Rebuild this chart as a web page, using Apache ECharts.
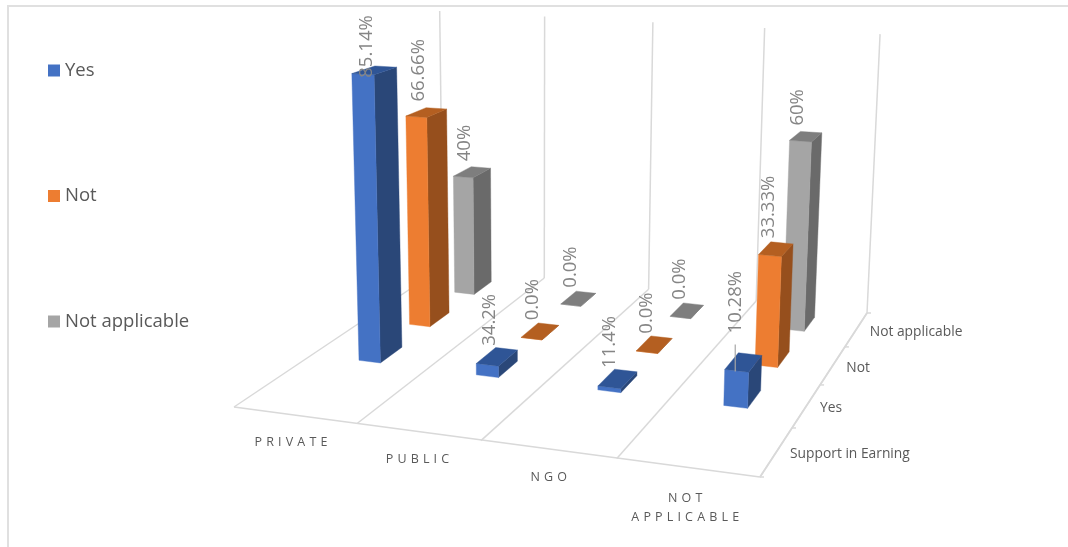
<!DOCTYPE html>
<html><head><meta charset="utf-8">
<style>html,body{margin:0;padding:0;background:#fff}#c{width:1068px;height:547px}</style>
<script src="https://cdn.jsdelivr.net/npm/echarts@6/dist/echarts.min.js"></script>
</head><body><div id="c"></div>
<script>
const sectors = ['PRIVATE','PUBLIC','NGO','NOT APPLICABLE'];
const depthLabels = ['Support in Earning','Yes','Not','Not applicable'];
const yesValues = [85.14, 3.42, 1.14, 10.28];
const notValues = [66.66, 0, 0, 33.33];
const naValues  = [40, 0, 0, 60];
const yesLabels = ['85.14%','34.2%','11.4%','10.28%'];
const notLabels = ['66.66%','0.0%','0.0%','33.33%'];
const naLabels  = ['40%','0.0%','0.0%','60%'];

const FONT = '"Open Sans", "Noto Sans", sans-serif';
const HMAX = 93;
const BAR_W = 0.185, BAR_D = 0.42, BAR_C = 0.5;
const FRONT_SHIFT = [0,-1,-6,-4,0];
const LABEL_TOP_MIN = 15, LABEL_FONT = 18.5;

// floor quad -> perspective
const Q = [[234,407],[760,477],[867,313],[443,267]];
const VP = [535,7400];
const H = (function(){
  const [x0,y0]=Q[0],[x1,y1]=Q[1],[x2,y2]=Q[2],[x3,y3]=Q[3];
  const dx1=x1-x2,dx2=x3-x2,sx=x0-x1+x2-x3,dy1=y1-y2,dy2=y3-y2,sy=y0-y1+y2-y3;
  const det=dx1*dy2-dx2*dy1;
  const g=(sx*dy2-dx2*sy)/det,h=(dx1*sy-sx*dy1)/det;
  return {a:x1-x0+g*x1,b:x3-x0+h*x3,c:x0,d:y1-y0+g*y1,e:y3-y0+h*y3,f:y0,g,h};
})();
const WALL_T = (11-267)/(VP[1]-267);
const S = (WALL_T*(H.g*0+H.h*1+1)/(1-WALL_T))/HMAX;
function project(u,v,h){
  const U=u/4,V=v/4,w=H.g*U+H.h*V+1;
  const X=(H.a*U+H.b*V+H.c)/w,Y=(H.d*U+H.e*V+H.f)/w;
  const hh=h*(1.02+0.04*U+0.045*(1-V));
  const t=hh*S/(w+hh*S);
  return [X+(VP[0]-X)*t,Y+(VP[1]-Y)*t];
}
const LINE={stroke:'#D9D9D9',lineWidth:1.5,fill:null};
function seg(a,b,style){return {type:'line',shape:{x1:a[0],y1:a[1],x2:b[0],y2:b[1]},style:style||LINE,silent:true};}
function poly(pts,fill){return {type:'polygon',shape:{points:pts},style:{fill:fill,stroke:fill,lineWidth:0.4},silent:true};}

function barSeries(name,row,values,labels,cols,z){
  return {
    type:'custom',name:name,coordinateSystem:'cartesian2d',z:z,clip:false,
    itemStyle:{color:cols[0]},encode:{x:0,y:1},
    data:values.map((v,i)=>[i,v,labels[i]]),
    renderItem(params,api){
      const i=api.value(0),val=api.value(1);
      const cs=params.coordSys;
      // height
      const h=(cs.y+cs.height-api.coord([i,val])[1])/cs.height*HMAX;
      const u0=i+BAR_C-BAR_W/2,u1=i+BAR_C+BAR_W/2,v0=row+0.5-BAR_D/2,v1=row+0.5+BAR_D/2;
      const fl=project(u0,v0,h),fr=project(u1,v0,h),br=project(u1,v1,h),bl=project(u0,v1,h);
      const fl0=project(u0,v0,0),fr0=project(u1,v0,0),br0=project(u1,v1,0);
      const children=[
        poly([fr0,br0,br,fr],cols[1]),
        poly([fl0,fr0,fr,fl],cols[0]),
        poly([fl,fr,br,bl],cols[2])
      ];
      const cx=(fl[0]+br[0])/2,cy=(fl[1]+br[1])/2;
      const txt=labels[i];
      const hasLeader=txt==='10.28%';
      const len=echarts.format.getTextRect?0:0;
      const textLen=txt.length*LABEL_FONT*0.565;
      const ly=Math.max(cy-(hasLeader?29:11),LABEL_TOP_MIN+textLen);
      children.push({type:'text',x:cx-7.5,y:ly,rotation:Math.PI/2,silent:true,
        style:{text:txt,fill:'#858585',font:LABEL_FONT+'px '+FONT,align:'left',verticalAlign:'middle'}});
      if(hasLeader) children.push(seg([cx-8,cy-18],[cx-8,cy+9],{stroke:'#A6A6A6',lineWidth:1.2}));
      return {type:'group',children};
    }
  };
}

const frameSeries={
  type:'custom',coordinateSystem:'none',z:1,silent:true,data:[[0]],
  renderItem(){
    const c=[];
    c.push(seg([7,6],[1068,6],{stroke:'#E0E0E0',lineWidth:2}));
    c.push(seg([8,6],[8,547],{stroke:'#E0E0E0',lineWidth:2}));
    const front=[];
    for(let u=0;u<=4;u++){
      const f=project(u,0,0);
      const p=[f[0]+FRONT_SHIFT[u],f[1]];
      front.push(p);
      c.push(seg(p,project(u,4,0)));
      c.push(seg(project(u,4,0),project(u,4,HMAX/1.02*(1-0.0025*u))));
    }
    c.push(seg(front[0],front[4]));
    c.push(seg(project(4,0,0),project(4,4,0)));
    for(let v=0;v<=4;v++){const p=project(4,v,0);c.push(seg(p,[p[0]+4,p[1]]));}
    sectors.forEach((s,i)=>{
      const p=project(i+0.5,0,0);
      const words=s.split(' ');
      const txt=words.map(w=>w.split('').join('\u2004')).join('\n');
      c.push({type:'text',x:p[0]-4.5,y:p[1]+(words.length>1?21:18),silent:true,style:{text:txt,fill:'#595959',font:'12.5px '+FONT,align:'center',verticalAlign:'top',lineHeight:19}});
    });
    depthLabels.forEach((s,i)=>{
      const p=project(4,i+0.5,0);
      c.push({type:'text',x:p[0]+13.5,y:p[1]+2.5,silent:true,style:{text:s,fill:'#595959',font:'13.8px '+FONT,align:'left',verticalAlign:'middle'}});
    });
    return {type:'group',children:c};
  }
};

const chart=echarts.init(document.getElementById('c'),null,{renderer:'canvas'});
chart.setOption({
  animation:false,backgroundColor:'#fff',
  grid:{left:0,right:0,top:0,bottom:0},
  xAxis:{type:'category',data:sectors,show:false},
  yAxis:{type:'value',min:0,max:HMAX,show:false},
  legend:{orient:'vertical',left:43,top:56,itemWidth:12,itemHeight:12,itemGap:106.5,icon:'rect',
    data:['Yes','Not','Not applicable'],selectedMode:false,
    textStyle:{color:'#595959',fontSize:18.5,fontFamily:FONT}},
  series:[
    frameSeries,
    barSeries('Not applicable',3,naValues,naLabels,['#A5A5A5','#6A6A6A','#7E7E7E'],2),
    barSeries('Not',2,notValues,notLabels,['#ED7D31','#964F1D','#B45F21'],3),
    barSeries('Yes',1,yesValues,yesLabels,['#4472C4','#2A4778','#2F5596'],4)
  ]
});
</script></body></html>
